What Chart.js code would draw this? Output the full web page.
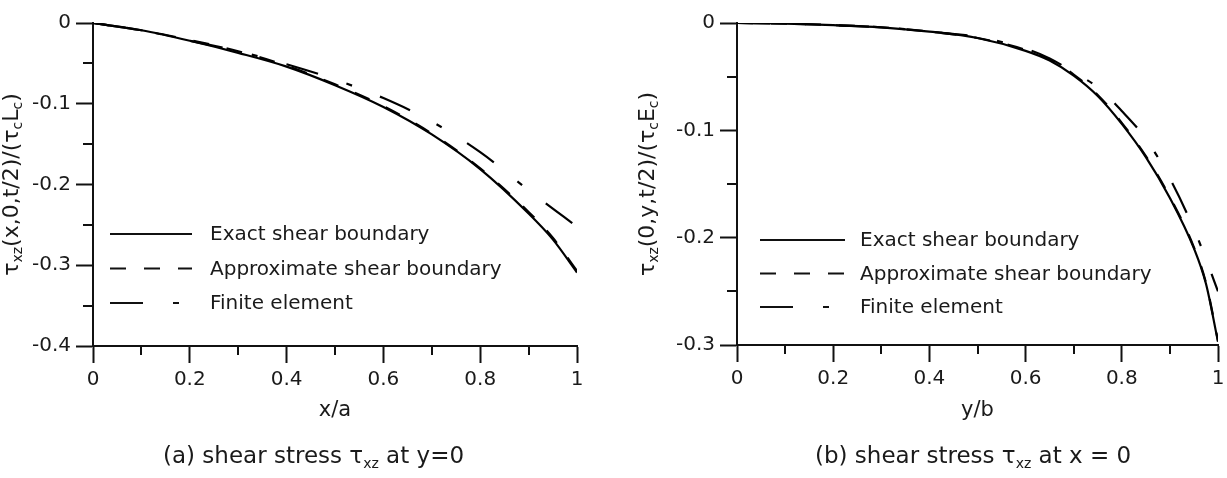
<!DOCTYPE html>
<html>
<head>
<meta charset="utf-8">
<script src="https://cdn.jsdelivr.net/npm/chart.js@4/dist/chart.umd.min.js"></script>
<style>
  html, body { margin: 0; padding: 0; background: #fff; }
  #wrap { position: relative; width: 1227px; height: 478px; overflow: hidden; }
  .pane { position: absolute; top: 0; }
</style>
</head>
<body>
<div id="wrap">
  <div class="pane" style="left:0"><canvas id="chartA" width="612" height="478"></canvas></div>
  <div class="pane" style="left:612px"><canvas id="chartB" width="615" height="478"></canvas></div>
</div>
<script>
  // --- datos (a): tau_xz a lo largo de x/a, y=0 ---
  const xA      = [0, 0.1, 0.2, 0.3, 0.4, 0.5, 0.6, 0.7, 0.8, 0.9, 0.95, 1.0];
  const exactA  = [0, -0.009, -0.022, -0.037, -0.054, -0.077, -0.104, -0.138, -0.181, -0.236, -0.268, -0.309];
  const approxA = [0, -0.009, -0.021, -0.035, -0.053, -0.076, -0.103, -0.137, -0.180, -0.234, -0.266, -0.307];
  const feA     = [0, -0.009, -0.022, -0.035, -0.051, -0.070, -0.093, -0.122, -0.160, -0.207, -0.230, -0.252];

  // --- datos (b): tau_xz a lo largo de y/b, x=0 ---
  const yB      = [0, 0.1, 0.2, 0.3, 0.4, 0.5, 0.6, 0.65, 0.7, 0.75, 0.8, 0.85, 0.9, 0.95, 0.975, 1.0];
  const exactB  = [0, -0.0005, -0.002, -0.004, -0.008, -0.014, -0.026, -0.035, -0.049, -0.068, -0.094, -0.125, -0.163, -0.210, -0.243, -0.297];
  const approxB = [0, -0.0005, -0.002, -0.004, -0.008, -0.014, -0.025, -0.034, -0.048, -0.067, -0.093, -0.124, -0.162, -0.209, -0.242, -0.296];
  const feB     = [0, -0.0005, -0.002, -0.004, -0.008, -0.013, -0.024, -0.033, -0.046, -0.060, -0.082, -0.108, -0.145, -0.192, -0.220, -0.250];

  const xTicksA = [0, 0.2, 0.4, 0.6, 0.8, 1];

  const seriesNames = ['Exact shear boundary', 'Approximate shear boundary', 'Finite element'];
  const dashes = [[], [16, 18], [33, 30, 6, 30]];

  const FONT = '"DejaVu Sans", sans-serif';
  const INK = '#111';
  const TXT = '#1a1a1a';

  const near = (a, b) => Math.abs(a - b) < 1e-6;
  const fmt = v => String(Number(v.toFixed(1)));

  // texto con subindices: [{t, sub}]
  function richWidth(ctx, segs, size) {
    let w = 0;
    segs.forEach(s => {
      ctx.font = (s.sub ? Math.round(size * 0.62) : size) + 'px ' + FONT;
      w += ctx.measureText(s.t).width;
    });
    return w;
  }
  function drawRich(ctx, segs, x, y, size, align) {
    let cx = align === 'center' ? x - richWidth(ctx, segs, size) / 2 : x;
    ctx.textAlign = 'left';
    ctx.textBaseline = 'middle';
    segs.forEach(s => {
      const fs = s.sub ? Math.round(size * 0.62) : size;
      ctx.font = fs + 'px ' + FONT;
      ctx.fillText(s.t, cx, s.sub ? y + size * 0.3 : y);
      cx += ctx.measureText(s.t).width;
    });
  }

  const decorPlugin = {
    id: 'decor',
    afterDraw(chart, args, o) {
      const ctx = chart.ctx;
      const ca = chart.chartArea;
      const sx = chart.scales.x, sy = chart.scales.y;
      ctx.save();
      ctx.strokeStyle = INK;
      ctx.lineWidth = 2;
      // ticks menores
      ctx.beginPath();
      for (let v = 0.1; v < 1; v += 0.2) {
        const px = Math.round(sx.getPixelForValue(v));
        ctx.moveTo(px, ca.bottom); ctx.lineTo(px, ca.bottom + 9);
      }
      for (let v = -0.05; v > sy.min; v -= 0.1) {
        const py = Math.round(sy.getPixelForValue(v));
        ctx.moveTo(ca.left - 10, py); ctx.lineTo(ca.left, py);
      }
      ctx.stroke();

      ctx.fillStyle = TXT;
      // titulo eje x
      ctx.font = '21px ' + FONT;
      ctx.textAlign = 'center';
      ctx.textBaseline = 'middle';
      ctx.fillText(o.xTitle, (ca.left + ca.right) / 2, o.xTitleY);
      // titulo eje y (rotado)
      ctx.save();
      ctx.translate(o.yTitleX, (ca.top + ca.bottom) / 2);
      ctx.rotate(-Math.PI / 2);
      drawRich(ctx, o.yTitle, 0, 0, 22, 'center');
      ctx.restore();
      // pie de figura
      drawRich(ctx, o.caption, o.captionX, o.captionY, 23, 'left');

      // leyenda
      chart.data.datasets.forEach((ds, i) => {
        const ly = o.legendY + i * o.legendGap;
        ctx.setLineDash(ds.borderDash || []);
        ctx.lineWidth = 2.2;
        ctx.beginPath();
        ctx.moveTo(o.legendX, ly); ctx.lineTo(o.legendX + o.legendLen, ly);
        ctx.stroke();
        ctx.setLineDash([]);
        ctx.font = '20px ' + FONT;
        ctx.textAlign = 'left';
        ctx.textBaseline = 'middle';
        ctx.fillText(ds.label, o.legendTextX, ly + 1);
      });
      ctx.restore();
    }
  };

  function makeChart(id, xs, series, yMin, yWidth, padRight, xHeight, decor) {
    const datasets = series.map((vals, i) => ({
      label: seriesNames[i],
      data: xs.map((x, k) => ({ x, y: vals[k] })),
      borderColor: '#000',
      borderWidth: 2.2,
      borderDash: dashes[i],
      pointRadius: 0,
      fill: false,
      cubicInterpolationMode: 'monotone'
    }));

    new Chart(document.getElementById(id).getContext('2d'), {
      type: 'line',
      data: { datasets },
      plugins: [decorPlugin],
      options: {
        responsive: false,
        animation: false,
        devicePixelRatio: 1,
        layout: { padding: { left: 0, right: padRight, top: 23, bottom: 0 } },
        plugins: { legend: { display: false }, tooltip: { enabled: false }, decor },
        scales: {
          x: {
            type: 'linear', min: 0, max: 1,
            ticks: {
              stepSize: 0.1, autoSkip: false, maxRotation: 0, padding: 5,
              color: TXT, font: { family: FONT, size: 20 },
              callback: v => xTicksA.some(t => near(t, v)) ? fmt(v) : ''
            },
            grid: {
              drawOnChartArea: false, tickLength: 17, tickWidth: 2,
              tickColor: c => xTicksA.some(t => near(t, c.tick.value)) ? INK : 'rgba(0,0,0,0)'
            },
            border: { width: 2, color: INK },
            afterFit: s => { s.height = xHeight; s.paddingLeft = 0; s.paddingRight = 0; }
          },
          y: {
            type: 'linear', min: yMin, max: 0,
            ticks: {
              stepSize: 0.1, autoSkip: false, padding: 5,
              color: TXT, font: { family: FONT, size: 20 },
              callback: v => fmt(v)
            },
            grid: { drawOnChartArea: false, tickLength: 17, tickWidth: 2, tickColor: INK },
            border: { width: 2, color: INK },
            afterFit: s => { s.width = yWidth; s.paddingTop = 0; s.paddingBottom = 0; }
          }
        }
      }
    });
  }

  makeChart('chartA', xA, [exactA, approxA, feA], -0.4, 93, 35, 132, {
    xTitle: 'x/a', xTitleY: 411, yTitleX: 12,
    yTitle: [{ t: 'τ' }, { t: 'xz', sub: true }, { t: '(x,0,t/2)/(' }, { t: 'τ' }, { t: 'c', sub: true }, { t: 'L' }, { t: 'c', sub: true }, { t: ')' }],
    caption: [{ t: '(a) shear stress ' }, { t: 'τ' }, { t: 'xz', sub: true }, { t: ' at y=0' }],
    captionX: 163, captionY: 457,
    legendX: 110, legendLen: 82, legendTextX: 210, legendY: 234, legendGap: 34.5
  });

  makeChart('chartB', yB, [exactB, approxB, feB], -0.3, 125, 9, 133, {
    xTitle: 'y/b', xTitleY: 411, yTitleX: 36,
    yTitle: [{ t: 'τ' }, { t: 'xz', sub: true }, { t: '(0,y,t/2)/(' }, { t: 'τ' }, { t: 'c', sub: true }, { t: 'E' }, { t: 'c', sub: true }, { t: ')' }],
    caption: [{ t: '(b) shear stress ' }, { t: 'τ' }, { t: 'xz', sub: true }, { t: ' at x = 0' }],
    captionX: 203, captionY: 457,
    legendX: 148, legendLen: 85, legendTextX: 248, legendY: 240, legendGap: 33.5
  });
</script>
</body>
</html>
